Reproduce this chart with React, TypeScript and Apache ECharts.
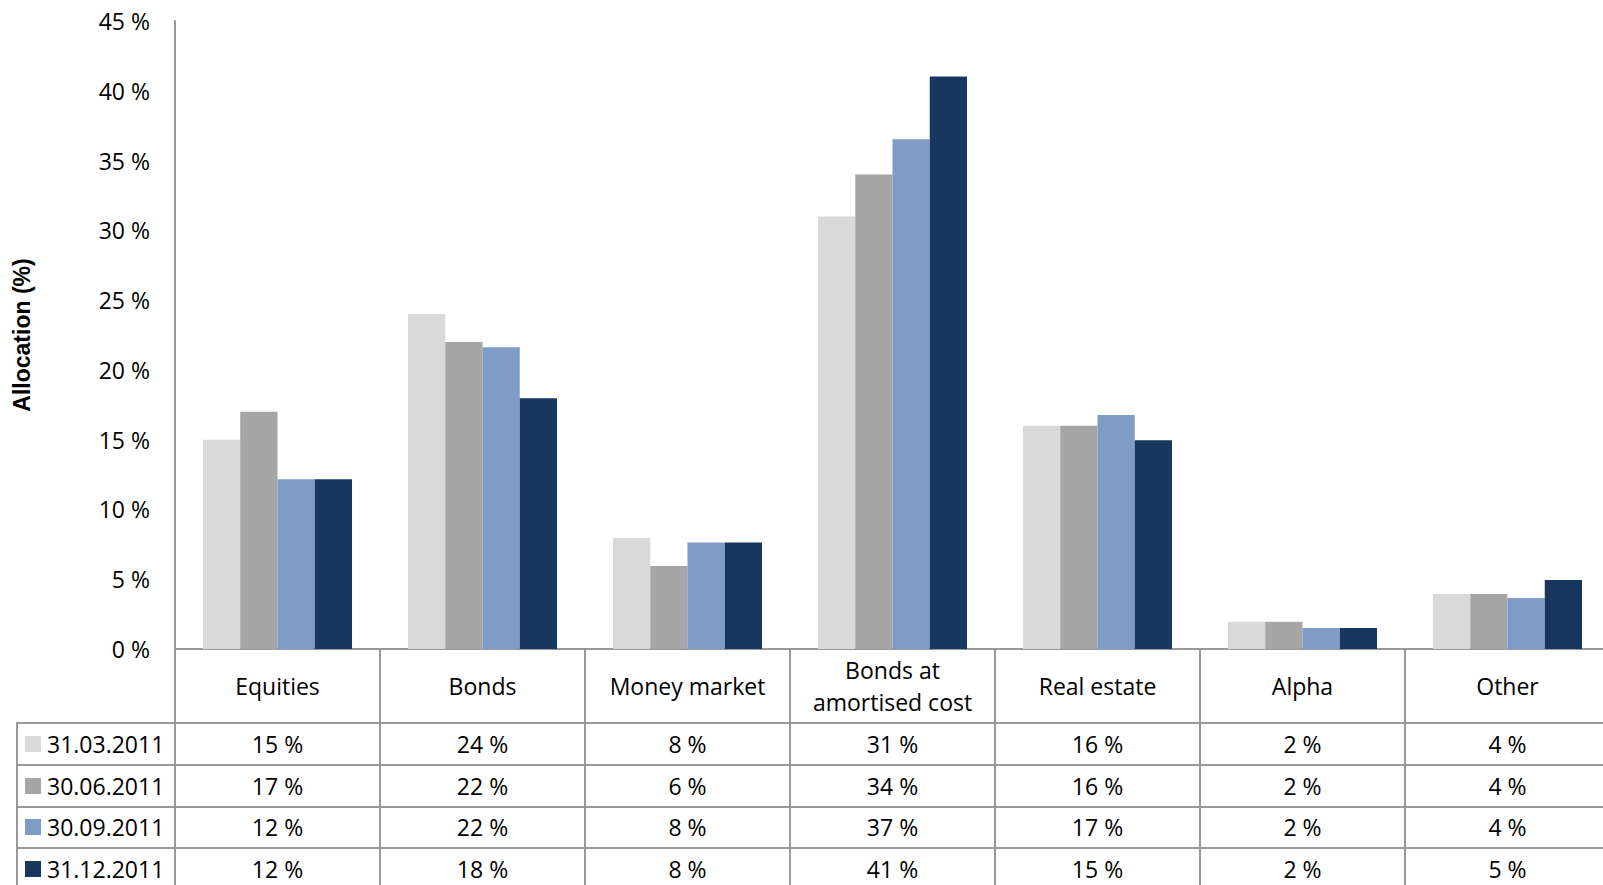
import React, { useEffect, useRef } from "react";
import * as echarts from "echarts";

const categories = [
  "Equities",
  "Bonds",
  "Money market",
  "Bonds at\namortised cost",
  "Real estate",
  "Alpha",
  "Other",
];
const seriesNames = ["31.03.2011", "30.06.2011", "30.09.2011", "31.12.2011"];
const q1 = [15.0, 24.0, 7.95, 31.0, 16.0, 1.95, 3.95];
const q2 = [17.0, 22.0, 5.95, 34.0, 16.0, 1.95, 3.95];
const q3 = [12.16, 21.62, 7.64, 36.52, 16.77, 1.5, 3.65];
const q4 = [12.16, 17.96, 7.64, 41.03, 14.95, 1.5, 4.95];
const seriesValues = [q1, q2, q3, q4];
const colors = ["#D9D9D9", "#A6A6A6", "#7F9CC6", "#18375E"];
const yTicks = { min: 0, max: 45, interval: 5 };

const FONT = "'Open Sans', sans-serif";
const LINE = "#999999";

export default function App() {
  const ref = useRef<HTMLDivElement>(null);
  useEffect(() => {
    if (!ref.current) return;
    const chart = echarts.init(ref.current, null, { renderer: "svg" });
    const axisY = 649;
    const rowOffsets = [95, 137, 178, 220];
    const rowAxes = seriesValues.map((vals, i) => ({
      type: "category",
      gridIndex: 0,
      position: "bottom",
      offset: rowOffsets[i],
      data: categories,
      axisLine: { show: false },
      axisTick: { show: false },
      splitLine: { show: false },
      axisLabel: {
        interval: 0,
        margin: 0,
        verticalAlign: "middle",
        fontFamily: FONT,
        fontSize: 23,
        color: "#000",
        formatter: (_v: string, idx: number) => `${Math.round(vals[idx])} %`,
      },
    }));
    const hLines = [723, 765, 807, 848].map((y) => ({
      type: "line",
      shape: { x1: 16, y1: y, x2: 1610, y2: y },
      style: { stroke: LINE, lineWidth: 2 },
      silent: true,
    }));
    const legendItems = seriesNames.flatMap((name, i) => {
      const cy = axisY + rowOffsets[i];
      return [
        {
          type: "rect",
          shape: { x: 25, y: cy - 8, width: 16, height: 16 },
          style: { fill: colors[i] },
          silent: true,
        },
        {
          type: "text",
          style: {
            text: name,
            x: 47,
            y: cy,
            verticalAlign: "middle",
            align: "left",
            fontFamily: FONT,
            fontSize: 23,
            fill: "#000",
          },
          silent: true,
        },
      ];
    });
    chart.setOption({
      animation: false,
      grid: {
        left: 175,
        right: 0,
        top: 21,
        bottom: 236,
        containLabel: false,
        outerBoundsMode: "none",
      },
      xAxis: [
        {
          type: "category",
          data: categories,
          boundaryGap: true,
          axisLine: { show: true, lineStyle: { color: LINE, width: 2 } },
          axisTick: {
            show: true,
            interval: 0,
            length: 236,
            lineStyle: { color: LINE, width: 2 },
          },
          axisLabel: {
            interval: 0,
            margin: 37,
            verticalAlign: "middle",
            fontFamily: FONT,
            fontSize: 23,
            lineHeight: 32,
            color: "#000",
          },
        },
        ...rowAxes,
      ],
      yAxis: {
        type: "value",
        min: yTicks.min,
        max: yTicks.max,
        interval: yTicks.interval,
        name: "Allocation (%)",
        nameLocation: "middle",
        nameGap: 142,
        nameRotate: 90,
        nameTextStyle: {
          fontFamily: "'Liberation Sans', Arial, sans-serif",
          fontWeight: "bold",
          fontSize: 23,
          color: "#000",
        },
        axisLine: { show: true, lineStyle: { color: LINE, width: 2 } },
        axisTick: { show: false },
        splitLine: { show: false },
        axisLabel: {
          margin: 25,
          fontFamily: FONT,
          fontSize: 23,
          color: "#000",
          formatter: "{value} %",
        },
      },
      series: seriesValues.map((vals, i) => ({
        type: "bar",
        name: seriesNames[i],
        data: vals,
        xAxisIndex: 0,
        barGap: "0%",
        barCategoryGap: "27.3%",
        itemStyle: { color: colors[i] },
      })),
      graphic: [
        ...hLines,
        {
          type: "line",
          shape: { x1: 17, y1: 722, x2: 17, y2: 885 },
          style: { stroke: LINE, lineWidth: 2 },
          silent: true,
        },
        ...legendItems,
      ],
    });
    return () => chart.dispose();
  }, []);
  return (
    <div
      style={{
        position: "fixed",
        left: 0,
        top: 0,
        width: 1603,
        height: 885,
        overflow: "hidden",
        background: "#fff",
      }}
    >
      <div ref={ref} style={{ width: 1610, height: 885 }} />
    </div>
  );
}
